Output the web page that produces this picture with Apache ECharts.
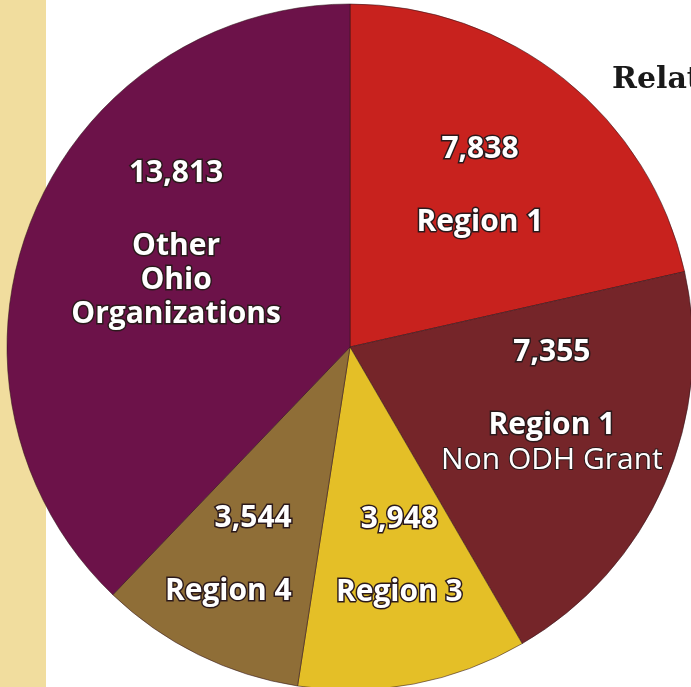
<!DOCTYPE html>
<html>
<head>
<meta charset="utf-8">
<script src="https://cdn.jsdelivr.net/npm/echarts@6/dist/echarts.min.js"></script>
<style>
  html, body { margin: 0; padding: 0; background: #fff; }
  #chart { width: 691px; height: 687px; }
</style>
</head>
<body>
<div id="chart"></div>
<script>
// slices, clockwise from 12 o'clock
const regions = ['Region 1', 'Region 1', 'Region 3', 'Region 4', 'Other\nOhio\nOrganizations']
const notes = ['', 'Non ODH Grant', '', '', '']
const counts = [7838, 7355, 3948, 3544, 13813]
const sliceColors = ['#c8221e', '#752529', '#e4bf27', '#8f6e37', '#6c1249']

// nudges from the default "inside" label spot
const labelShift = [
  { dx: 21, dy: -25 },
  { dx: 42, dy: -10 },
  { dx: 17, dy: 37 },
  { dx: 19, dy: 51, align: 'right' },
  { dx: -12, dy: -39 }
]

const chart = echarts.init(document.getElementById('chart'))

const pieData = counts.map((v, i) => ({
  value: v,
  name: regions[i],
  itemStyle: { color: sliceColors[i] }
}))

const option = {
  animation: false,
  title: {
    text: 'Relationships',
    left: 612,
    top: 65,
    padding: 0,
    textStyle: {
      fontFamily: 'DejaVu Serif',
      fontWeight: 'bold',
      fontSize: 30,
      color: '#1a1a1a'
    }
  },
  graphic: [
    {
      type: 'rect',
      z: -10,
      shape: { x: 0, y: 0, width: 46, height: 687 },
      style: { fill: '#f1dd9e' }
    }
  ],
  series: [
    {
      type: 'pie',
      center: [350, 347],
      radius: 343,
      startAngle: 90,
      clockwise: true,
      silent: true,
      itemStyle: {
        borderColor: 'rgba(50, 20, 25, 0.55)',
        borderWidth: 1
      },
      label: {
        show: true,
        position: 'inside',
        fontFamily: 'Open Sans',
        color: '#fff',
        textBorderColor: '#2b1a1c',
        textBorderWidth: 2.5,
        formatter: p => {
          let lines = ['{v|' + echarts.format.addCommas(p.value) + '}', '{g| }']
          p.name.split('\n').forEach(s => lines.push('{n|' + s + '}'))
          if (notes[p.dataIndex]) lines.push('{s|' + notes[p.dataIndex] + '}')
          return lines.join('\n')
        },
        rich: {
          v: { fontFamily: 'Open Sans', fontWeight: 'bold', fontSize: 30, lineHeight: 36, color: '#fff', textBorderColor: '#2b1a1c', textBorderWidth: 3 },
          g: { fontSize: 10, lineHeight: 38 },
          n: { fontFamily: 'Open Sans', fontWeight: 'bold', fontSize: 30, lineHeight: 34, color: '#fff', textBorderColor: '#2b1a1c', textBorderWidth: 3 },
          s: { fontFamily: 'Open Sans', fontWeight: 'normal', fontSize: 30, lineHeight: 36, color: '#fff', textBorderColor: '#2b1a1c', textBorderWidth: 2 }
        }
      },
      labelLine: { show: false },
      labelLayout: p => labelShift[p.dataIndex],
      data: pieData
    }
  ]
}

chart.setOption(option)
</script>
</body>
</html>
